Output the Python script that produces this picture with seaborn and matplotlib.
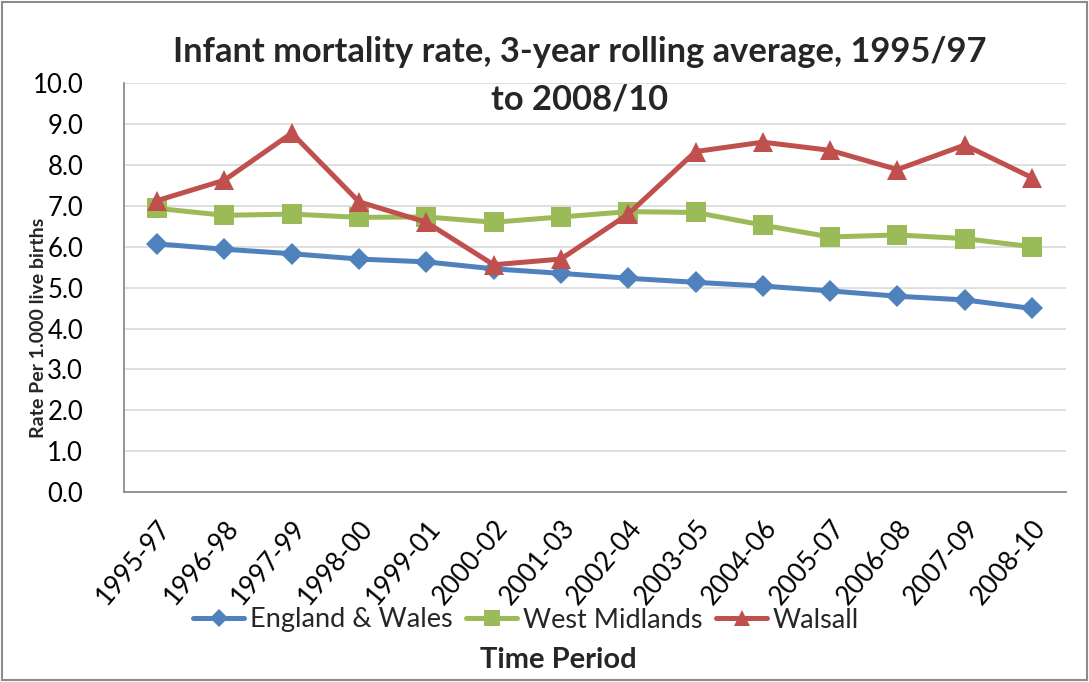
import matplotlib
matplotlib.use("Agg")
import matplotlib.pyplot as plt
import seaborn as sns
import pandas as pd
from matplotlib.patches import Rectangle

periods = ["1995-97", "1996-98", "1997-99", "1998-00", "1999-01", "2000-02", "2001-03",
           "2002-04", "2003-05", "2004-06", "2005-07", "2006-08", "2007-09", "2008-10"]
england_wales = [6.07, 5.94, 5.83, 5.70, 5.63, 5.46, 5.35, 5.23, 5.13, 5.04, 4.92, 4.79, 4.70, 4.49]
west_midlands = [6.94, 6.77, 6.80, 6.72, 6.73, 6.60, 6.73, 6.86, 6.84, 6.53, 6.24, 6.29, 6.20, 6.00]
walsall = [7.13, 7.63, 8.78, 7.10, 6.60, 5.56, 5.70, 6.80, 8.33, 8.56, 8.36, 7.89, 8.49, 7.69]
series_names = ["England & Wales", "West Midlands", "Walsall"]

df = pd.DataFrame({
    "Period": periods * 3,
    "Area": sum([[n] * len(periods) for n in series_names], []),
    "Rate": england_wales + west_midlands + walsall,
})

sns.set_theme(style="white")
plt.rcParams["font.family"] = ["Lato", "DejaVu Sans"]

W, H = 1089, 682
fig = plt.figure(figsize=(W / 100, H / 100), dpi=100)
fig.patch.set_facecolor("white")
ax = fig.add_axes([123.5 / W, 1 - 492 / H, (1065.7 - 123.5) / W, (492 - 83.3) / H])

palette = {"England & Wales": "#4F81BD", "West Midlands": "#9BBB59", "Walsall": "#C0504D"}
markers = {"England & Wales": "D", "West Midlands": "s", "Walsall": "^"}
sizes = {"England & Wales": 11, "West Midlands": 14, "Walsall": 14.5}

for name in series_names:
    sub = df[df["Area"] == name]
    sns.lineplot(data=sub, x="Period", y="Rate", ax=ax, color=palette[name],
                 marker=markers[name], markersize=sizes[name], markeredgewidth=0,
                 linewidth=3.6, label=name, sort=False, legend=False)

ax.set_xlim(-0.5, len(periods) - 0.5)
ax.set_ylim(0, 10)
ax.set_yticks([i for i in range(11)])
ax.set_yticklabels([f"{i:.1f}" for i in range(11)])
ax.grid(axis="y", color="#D9D9D9", linewidth=1.2)
ax.grid(axis="x", visible=False)
ax.set_axisbelow(True)
for s in ["top", "right"]:
    ax.spines[s].set_visible(False)
for s in ["left", "bottom"]:
    ax.spines[s].set_color("#8C8C8C")
    ax.spines[s].set_linewidth(1.3)

ax.tick_params(axis="y", length=0, pad=29, labelsize=18.5, labelcolor="black")
ax.tick_params(axis="x", direction="in", length=5, width=1.3, color="#8C8C8C",
               pad=17, labelsize=19, labelcolor="black")
plt.setp(ax.get_xticklabels(), rotation=50, ha="right", rotation_mode="anchor")
ax.set_xlabel("")
ax.set_ylabel("")

fig.text(38 / W, 1 - 328 / H, "Rate Per 1.000 live births", rotation=90,
         ha="center", va="center", fontsize=14, fontweight="bold")
fig.text(580 / W, 1 - 76 / H, "Infant mortality rate, 3-year rolling average, 1995/97\nto 2008/10",
         ha="center", va="center", fontsize=24.8, fontweight="bold", linespacing=1.6)
fig.text(558 / W, 1 - 660 / H, "Time Period", ha="center", va="center",
         fontsize=21, fontweight="bold")

handles, labels = ax.get_legend_handles_labels()
fig.legend(handles, labels, loc="center", bbox_to_anchor=(526 / W, 1 - 620 / H),
           ncol=3, frameon=False, fontsize=19.5, handlelength=1.9,
           handletextpad=0.2, columnspacing=0.5, markerscale=0.8)

fig.add_artist(Rectangle((2 / W, 2 / H), (W - 4) / W, (H - 4) / H, transform=fig.transFigure,
                         fill=False, edgecolor="#8C8C8C", linewidth=1.5))

fig.savefig("out.png", dpi=100, facecolor="white")
